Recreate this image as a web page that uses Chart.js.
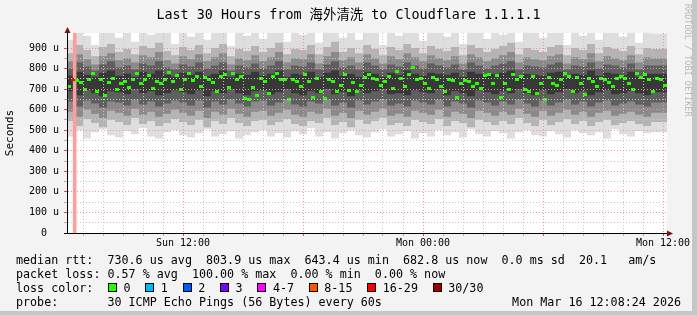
<!DOCTYPE html>
<html lang="zh">
<head>
<meta charset="UTF-8">
<title>Last 30 Hours from 海外清洗 to Cloudflare 1.1.1.1</title>
<script src="https://cdn.jsdelivr.net/npm/chart.js"></script>
<style>
  html, body { margin: 0; padding: 0; }
  body { width: 697px; height: 315px; position: relative; overflow: hidden; background: #c6c6c6;
         font-family: "DejaVu Sans Mono", "Noto Sans CJK SC", monospace; color: #000; }
  #frame { position: absolute; left: 0; top: 0; width: 692px; height: 311px; background: #f3f3f3; }
  #myChart { position: absolute; left: 0; top: 0; }
  .txt { position: absolute; white-space: pre; }
  #title { left: 0; top: 7px; width: 697px; text-align: center; font-size: 13.4px; line-height: 16px; }
  #mark { left: 693px; top: 4px; font-size: 8.5px; line-height: 10px; color: #b8b8b8;
          transform: rotate(90deg); transform-origin: 0 0; }
  #legend { left: 16px; top: 253px; font-size: 11.7px; line-height: 14px; }
  #stamp { right: 16px; top: 295px; font-size: 11.7px; line-height: 14px; }
  .box { display: inline-block; width: 9px; height: 9px; box-sizing: border-box; border: 1px solid #000;
         vertical-align: baseline; margin-left: 14.8px; }
  .box.first { margin-left: 14.6px; }
  .lbl { margin-left: 6.5px; }
</style>
</head>
<body>
<div id="frame"></div>
<canvas id="myChart" width="697" height="315"></canvas>
<div id="title" class="txt">Last 30 Hours from 海外清洗 to Cloudflare 1.1.1.1</div>
<div id="mark" class="txt">RRDTOOL / TOBI OETIKER</div>
<div id="legend" class="txt">median rtt:  730.6 us avg  803.9 us max  643.4 us min  682.8 us now  0.0 ms sd  20.1   am/s
packet loss: 0.57 % avg  100.00 % max  0.00 % min  0.00 % now
loss color:<span id="lossItems"></span>
probe:       30 ICMP Echo Pings (56 Bytes) every 60s</div>
<div id="stamp" class="txt">Mon Mar 16 12:08:24 2026</div>

<script>
// x is minutes since Sun 06:12 (30 hours shown), y is in microseconds
const yMax = 973;
const xMax = 1800;
const medianStep = 12;
const smokeStep = 24;

const medianValues = [
  712,745,740,730,700,745,775,690,745,670,730,750,700,725,735,710,745,775,725,745,765,705,735,725,745,
  780,735,765,700,745,775,740,760,715,755,745,730,690,760,770,710,775,745,760,655,650,710,670,750,735,
  680,760,775,745,745,650,745,735,712,770,735,660,750,690,655,745,735,690,720,770,695,730,690,720,755,
  770,750,745,720,738,760,705,785,750,715,770,805,745,750,728,705,755,745,715,690,745,740,660,728,740,
  735,712,728,705,765,770,728,765,660,725,700,770,745,760,700,690,760,680,725,650,755,728,720,745,775,
  760,690,755,728,675,750,735,715,750,745,730,715,750,760,750,728,700,775,755,770,745,690,750,745,720
];

// smoke: five bands per 24-minute column, outer (light) to inner (dark)
const smokeHi1 = [
  975,940,975,960,915,975,975,950,975,930,975,965,975,975,920,
  975,955,975,940,975,975,910,975,960,975,945,975,975,930,975,
  965,975,925,975,975,950,975,940,975,975,915,975,960,975,975,
  935,975,975,955,975,920,975,975,945,975,965,975,930,975,975,
  950,975,975,915,975,960,975,940,975,975,955,975,925,975,970
];
const smokeLo1 = [
  485,470,500,460,490,505,475,465,495,480,510,470,460,490,500,
  475,465,485,505,470,480,495,460,475,490,500,470,485,465,495,
  480,510,470,490,460,485,500,475,465,490,505,470,480,495,460,
  485,470,500,475,490,465,505,480,470,495,485,460,490,500,475,
  470,495,480,465,500,485,475,490,460,505,480,470,495,485,490
];
const smokeHi2 = [
  900,875,915,890,860,905,920,880,895,870,910,900,925,885,865,
  905,890,915,875,900,920,860,895,885,910,880,900,925,870,895,
  890,915,870,905,930,880,900,875,915,895,865,905,890,920,900,
  875,910,895,885,905,865,915,900,880,895,910,925,870,900,890,
  880,905,915,865,900,890,920,875,905,895,885,910,870,900,895
];
const smokeLo2 = [
  530,545,520,555,535,515,550,540,525,560,530,545,520,535,555,
  540,525,550,515,545,530,560,535,520,545,550,525,540,555,530,
  520,545,535,560,525,540,515,550,530,545,560,525,535,520,550,
  540,530,555,520,545,535,515,550,540,525,545,530,560,535,520,
  550,525,540,555,530,545,520,540,550,525,535,545,530,520,540
];
const smokeHi3 = [
  855,835,870,845,820,860,875,840,850,830,865,855,880,840,825,
  860,845,870,835,855,875,820,850,840,865,835,855,880,830,850,
  845,870,825,860,880,840,855,830,870,850,825,860,845,875,855,
  835,865,850,840,860,825,870,855,835,850,865,880,830,855,845,
  840,860,870,825,855,845,875,835,860,850,840,865,830,855,850
];
const smokeLo3 = [
  575,590,565,600,580,560,595,585,570,605,575,590,565,580,600,
  585,570,595,560,590,575,605,580,565,590,595,570,585,600,575,
  565,590,580,605,570,585,560,595,575,590,605,570,580,565,595,
  585,575,600,565,590,580,560,595,585,570,590,575,605,580,565,
  595,570,585,600,575,590,565,585,595,570,580,590,575,565,585
];
const smokeHi4 = [
  815,800,830,810,790,820,835,805,815,795,825,815,835,805,795,
  820,810,830,800,815,830,790,815,805,825,800,815,835,795,815,
  810,830,795,820,835,805,815,795,830,815,795,820,810,830,815,
  800,825,815,805,820,795,830,815,800,815,825,835,795,815,810,
  805,820,830,795,815,810,830,800,820,815,805,825,795,815,815
];
const smokeLo4 = [
  625,640,615,645,630,610,640,635,620,650,625,640,615,630,645,
  635,620,645,610,640,625,650,630,615,640,645,620,635,650,625,
  615,640,630,650,620,635,610,645,625,640,650,620,630,615,645,
  635,625,650,615,640,630,610,645,635,620,640,625,650,630,615,
  645,620,635,650,625,640,615,635,645,620,630,640,625,615,635
];
const smokeHi5 = [
  775,765,785,770,760,780,790,765,775,760,785,775,790,770,760,
  780,770,785,765,775,790,760,775,770,785,765,775,790,760,775,
  770,785,760,780,790,765,775,760,785,775,760,780,770,790,775,
  765,780,775,770,780,760,785,775,765,775,780,790,760,775,770,
  765,780,785,760,775,770,790,765,780,775,770,785,760,775,775
];
const smokeLo5 = [
  680,690,670,695,680,665,690,685,675,700,680,690,670,680,695,
  685,675,695,665,690,680,700,680,670,690,695,675,685,700,680,
  670,690,680,700,675,685,665,695,680,690,700,675,680,670,695,
  685,680,700,670,690,680,665,695,685,675,690,680,700,680,670,
  695,675,685,700,680,690,670,685,695,675,680,690,680,670,685
];

const lossStart = [17];
const lossEnd = [29];
const lossLabels = ['0', '1', '2', '3', '4-7', '8-15', '16-29', '30/30'];
const lossColors = ['#26ff00', '#00b8ff', '#0059ff', '#7e00ff', '#ff00ff', '#ff5500', '#ff0000', '#a10000'];

const firstHour = 48;
const xLabelMinutes = [348, 1068, 1788];
const xLabelText = ['Sun 12:00', 'Mon 00:00', 'Mon 12:00'];

const grayMinor = '#c8c8c8';
const redMajor = '#e39a9a';

// legend boxes
const items = document.getElementById('lossItems');
lossLabels.forEach((lbl, i) => {
  const b = document.createElement('span');
  b.className = 'box' + (i === 0 ? ' first' : '');
  b.style.background = lossColors[i];
  const t = document.createElement('span');
  t.className = 'lbl';
  t.textContent = lbl;
  items.appendChild(b);
  items.appendChild(t);
});

function smokePoints(arr) {
  const pts = arr.map((v, i) => ({ x: i * smokeStep, y: v }));
  pts.push({ x: xMax, y: arr[arr.length - 1] });
  return pts;
}

function band(lo, hi, color, order) {
  return [
    { data: smokePoints(lo), stepped: 'after', borderWidth: 0, pointRadius: 0, fill: false, order: order },
    { data: smokePoints(hi), stepped: 'after', borderWidth: 0, pointRadius: 0, fill: '-1',
      backgroundColor: color, order: order }
  ];
}

function dash(color) {
  const c = document.createElement('canvas');
  c.width = 4; c.height = 3;
  const g = c.getContext('2d');
  g.fillStyle = color;
  g.fillRect(0, 0, 4, 3);
  return c;
}
const dashOk = dash(lossColors[0]);
const dashLoss = dash(lossColors[6]);

const medianPts = medianValues.map((v, i) => ({ x: 6 + i * medianStep, y: v }));
const inLoss = x => lossStart.some((s, k) => x >= s && x <= lossEnd[k]);

const lossBands = lossStart.map((s, k) => ({
  data: [{ x: s, y: yMax }, { x: lossEnd[k], y: yMax }],
  borderWidth: 0, pointRadius: 0, fill: 'origin', backgroundColor: '#ff9c9c', order: 2
}));

const decor = {
  id: 'decor',
  beforeDraw(chart) {
    const { ctx, chartArea: a } = chart;
    ctx.save();
    ctx.fillStyle = '#ffffff';
    ctx.fillRect(a.left, a.top, a.right - a.left, a.bottom - a.top);
    ctx.restore();
  },
  afterDraw(chart) {
    const { ctx, chartArea: a } = chart;
    ctx.save();
    ctx.fillStyle = '#7f1010';
    ctx.beginPath();
    ctx.moveTo(a.left + 0.5, a.top - 6);
    ctx.lineTo(a.left + 3.5, a.top);
    ctx.lineTo(a.left - 2.5, a.top);
    ctx.closePath();
    ctx.fill();
    ctx.beginPath();
    ctx.moveTo(a.right + 6, a.bottom + 0.5);
    ctx.lineTo(a.right, a.bottom - 2.5);
    ctx.lineTo(a.right, a.bottom + 3.5);
    ctx.closePath();
    ctx.fill();
    ctx.strokeStyle = '#000';
    ctx.lineWidth = 1;
    ctx.beginPath();
    ctx.moveTo(a.left - 3, a.bottom + 0.5);
    ctx.lineTo(a.right, a.bottom + 0.5);
    ctx.stroke();
    ctx.restore();
  }
};

const ctx = document.getElementById('myChart').getContext('2d');
new Chart(ctx, {
  type: 'line',
  data: {
    datasets: [
      {
        data: medianPts, showLine: false, order: 0,
        pointStyle: c => (c.raw && inLoss(c.raw.x)) ? dashLoss : dashOk
      },
      ...lossBands,
      ...band(smokeLo5, smokeHi5, '#383838', 4),
      ...band(smokeLo4, smokeHi4, '#5f5f5f', 5),
      ...band(smokeLo3, smokeHi3, '#8a8a8a', 6),
      ...band(smokeLo2, smokeHi2, '#b4b4b4', 7),
      ...band(smokeLo1, smokeHi1, '#dedede', 8)
    ]
  },
  options: {
    responsive: false,
    animation: false,
    layout: { padding: { left: 4, right: 30, top: 33, bottom: 62 } },
    plugins: { legend: { display: false }, tooltip: { enabled: false }, title: { display: false } },
    scales: {
      x: {
        type: 'linear', min: 0, max: xMax,
        afterBuildTicks: s => {
          const t = [];
          for (let m = firstHour; m <= xMax; m += 60) t.push({ value: m });
          s.ticks = t;
        },
        afterFit: s => { s.height = 20; },
        ticks: {
          autoSkip: false, maxRotation: 0, padding: 1, color: '#000',
          font: { family: 'DejaVu Sans Mono', size: 10 },
          callback: v => {
            const k = xLabelMinutes.indexOf(v);
            return k >= 0 ? xLabelText[k] : '';
          }
        },
        grid: {
          z: 1, tickLength: 3,
          color: c => ((((c.tick.value - xLabelMinutes[0]) % 360) + 360) % 360 === 0) ? redMajor : grayMinor,
          tickColor: c => ((((c.tick.value - xLabelMinutes[0]) % 360) + 360) % 360 === 0) ? '#d05050' : '#b0b0b0'
        },
        border: { z: 1, color: '#000', width: 1, dash: [1, 2] }
      },
      y: {
        min: 0, max: yMax,
        afterFit: s => { s.width = 63; },
        ticks: {
          stepSize: 50, autoSkip: false, padding: 5, color: '#000',
          font: { family: 'DejaVu Sans Mono', size: 10 },
          callback: v => {
            if (v % 100 === 0) return v === 0 ? '0  ' : v + ' u';
            if (v % 50 === 0) return '';
            return null;
          }
        },
        grid: {
          z: 1, tickLength: 3,
          color: c => (c.tick.value % 100 === 0) ? redMajor : grayMinor,
          tickColor: c => (c.tick.value % 100 === 0) ? '#d05050' : '#b0b0b0'
        },
        border: { z: 1, color: '#000', width: 1, dash: [1, 2] },
        title: {
          display: true, text: 'Seconds', color: '#000', padding: 0,
          font: { family: 'DejaVu Sans Mono', size: 11 }
        }
      }
    }
  },
  plugins: [decor]
});
</script>
</body>
</html>
